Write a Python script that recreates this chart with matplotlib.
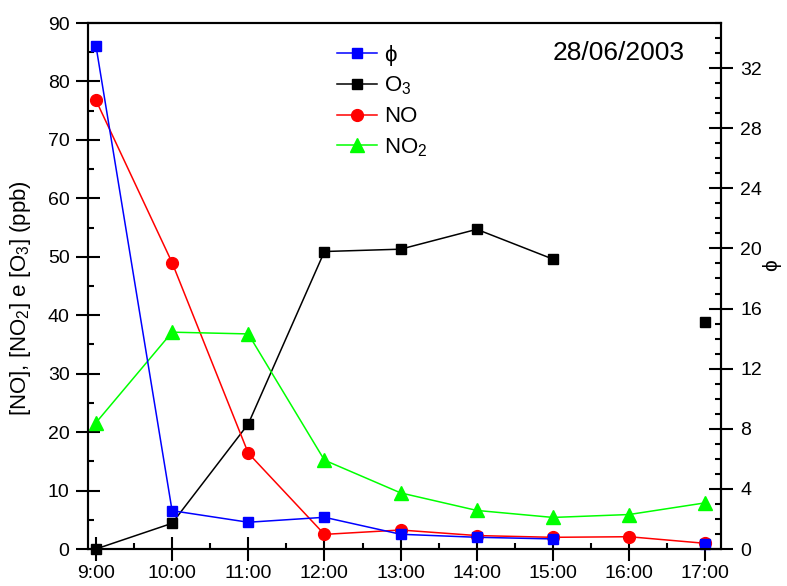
import numpy as np
import matplotlib.pyplot as plt
from matplotlib.ticker import MultipleLocator

plt.rcParams['font.family'] = ['Liberation Sans', 'DejaVu Sans']
plt.rcParams['mathtext.fontset'] = 'custom'
plt.rcParams['mathtext.rm'] = 'Liberation Sans'
plt.rcParams['mathtext.it'] = 'Liberation Sans:italic'

# hourly measurements, 28/06/2003
hours = [9, 10, 11, 12, 13, 14, 15, 16, 17]
hour_labels = ['9:00', '10:00', '11:00', '12:00', '13:00', '14:00', '15:00', '16:00', '17:00']
phi = [33.5, 2.55, 1.78, 2.11, 0.98, 0.78, 0.67, np.nan, 0.33]
o3 = [0.0, 4.4, 21.4, 50.9, 51.3, 54.7, 49.6, np.nan, 38.8]
no = [76.8, 49.0, 16.4, 2.5, 3.25, 2.3, 2.0, 2.1, 0.97]
no2 = [21.6, 37.1, 36.8, 15.2, 9.6, 6.6, 5.4, 5.9, 7.9]

PHI = '\u03d5'

fig = plt.figure(figsize=(7.87, 5.86), dpi=100)
ax = fig.add_axes([88.3 / 787, 1 - 549 / 586, 633 / 787, 526 / 586])
ax2 = ax.twinx()

lw = 1.1
h_o3, = ax.plot(hours, o3, '-s', color='black', lw=lw, ms=7.5, clip_on=False)
h_no, = ax.plot(hours, no, '-o', color='#ff0000', lw=lw, ms=8.5, clip_on=False)
h_no2, = ax.plot(hours, no2, '-^', color='#00ff00', lw=lw, ms=9.5, clip_on=False)
h_phi, = ax2.plot(hours, phi, '-s', color='#0000ff', lw=lw, ms=7.5, clip_on=False)

ax.set_xlim(8.9, 17.21)
ax.set_ylim(0, 90)
ax2.set_ylim(0, 35)

ax.set_xticks(hours)
ax.set_xticklabels(hour_labels)
ax.xaxis.set_minor_locator(MultipleLocator(0.5))
ax.yaxis.set_major_locator(MultipleLocator(10))
ax.yaxis.set_minor_locator(MultipleLocator(5))
ax2.yaxis.set_major_locator(MultipleLocator(4))
ax2.yaxis.set_minor_locator(MultipleLocator(1))

for a in (ax, ax2):
    for s in a.spines.values():
        s.set_linewidth(1.5)
    a.tick_params(which='major', direction='inout', length=17, width=1.5, labelsize=14)
    a.tick_params(which='minor', direction='in', length=4.5, width=1.5)
ax.tick_params(axis='x', pad=3)
ax.tick_params(axis='y', pad=5)
ax2.tick_params(axis='y', pad=5)

ax.set_ylabel('[NO], [NO$_2$] e [O$_3$] (ppb)', fontsize=16)
ax.yaxis.set_label_coords(-0.088, 0.477)
ax2.set_ylabel(PHI, fontsize=15)
ax2.yaxis.set_label_coords(1.065, 0.54)

leg = ax2.legend([h_phi, h_o3, h_no, h_no2], [PHI, 'O$_3$', 'NO', 'NO$_2$'],
                 loc='upper left', bbox_to_anchor=(337 / 787, 1 - 45 / 586),
                 bbox_transform=fig.transFigure, frameon=False, fontsize=16,
                 handlelength=1.8, handletextpad=0.3, labelspacing=0.4,
                 borderpad=0, borderaxespad=0)

fig.text(619 / 787, 1 - 53 / 586, '28/06/2003', fontsize=19, ha='center', va='center')

fig.savefig('out.png', dpi=100)
